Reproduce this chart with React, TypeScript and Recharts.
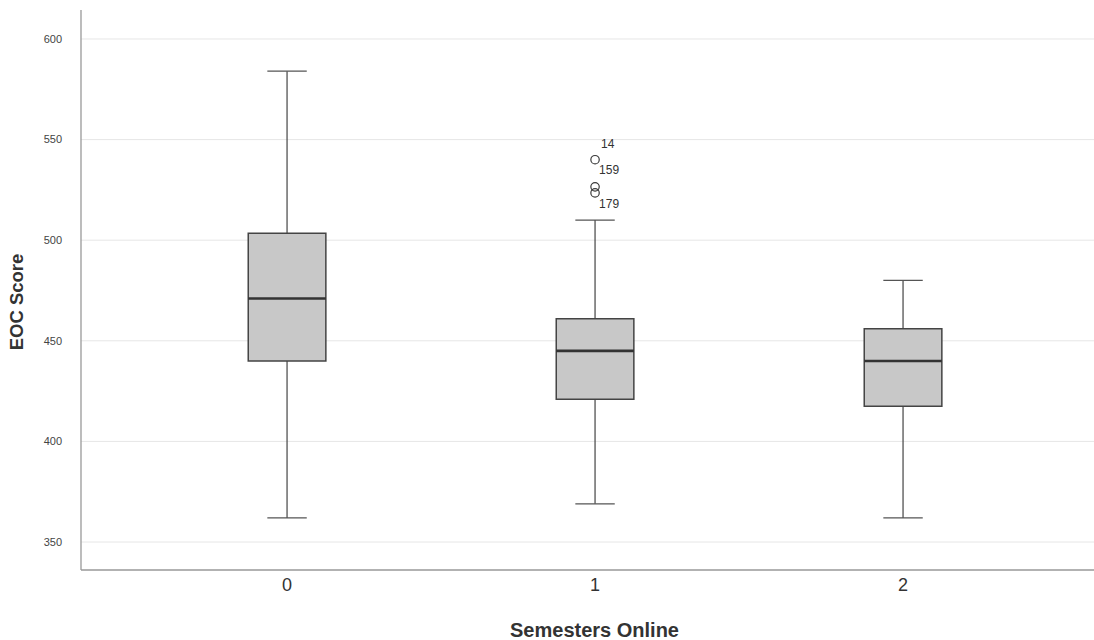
import React from 'react';
import {
  ComposedChart,
  XAxis,
  YAxis,
  CartesianGrid,
  Scatter,
  ReferenceArea,
  ReferenceLine,
  Label,
} from 'recharts';

// ---- data ----
const categories = [0, 1, 2];
const whiskerLow = [362, 369, 362];
const quartile1 = [440, 421, 417.5];
const medians = [471, 445, 440];
const quartile3 = [503.5, 461, 456];
const whiskerHigh = [584, 510, 480];
const outlierCategory = [1, 1, 1];
const outlierValues = [540, 526.5, 523.5];
const outlierIds = ['14', '159', '179'];
const yTicks = [350, 400, 450, 500, 550, 600];

const outliers = outlierValues.map((v, i) => ({ x: outlierCategory[i], y: v, id: outlierIds[i] }));

// ---- style ----
const BOX_HALF = 0.126;
const CAP_HALF = 0.064;
const labelOffsets: Record<string, { dx: number; dy: number }> = {
  '14': { dx: 6, dy: -16 },
  '159': { dx: 4, dy: -17 },
  '179': { dx: 4, dy: 11 },
};
const FONT = 'Arial, "Liberation Sans", Helvetica, sans-serif';

const OutlierShape = (props: any) => {
  const { cx, cy, payload } = props;
  if (cx == null || cy == null) return null;
  const off = labelOffsets[payload.id] || { dx: 6, dy: 0 };
  return (
    <g>
      <circle cx={cx} cy={cy} r={4.2} fill="none" stroke="#3a3a3a" strokeWidth={1.2} />
      <text
        x={cx + off.dx}
        y={cy + off.dy}
        dominantBaseline="central"
        fontSize={12}
        fontFamily={FONT}
        fill="#333"
      >
        {payload.id}
      </text>
    </g>
  );
};

export default function App() {
  return (
    <div style={{ position: 'absolute', left: 0, top: 0, background: '#fff' }}>
      <ComposedChart
        width={1094}
        height={640}
        margin={{ top: 10, right: 0, bottom: 30, left: 0 }}
      >
        <CartesianGrid
          vertical={false}
          horizontal={true}
          horizontalValues={yTicks}
          stroke="#e6e6e6"
          strokeWidth={1}
        />
        <XAxis
          type="number"
          dataKey="x"
          domain={[-0.669, 2.62]}
          ticks={categories}
          allowDataOverflow
          tickLine={false}
          axisLine={{ stroke: '#999', strokeWidth: 1.3 }}
          tickSize={6}
          tickMargin={2}
          height={40}
          tick={{ fontSize: 18, fill: '#333', fontFamily: FONT }}
        >
          <Label
            content={(p: any) => {
              const vb = p.viewBox || { x: 81, y: 570, width: 1013, height: 40 };
              return (
                <text
                  x={vb.x + vb.width / 2 + 7}
                  y={vb.y + 60}
                  textAnchor="middle"
                  dominantBaseline="central"
                  fontSize={20}
                  fontWeight="bold"
                  fontFamily={FONT}
                  fill="#333"
                >
                  Semesters Online
                </text>
              );
            }}
          />
        </XAxis>
        <YAxis
          type="number"
          dataKey="y"
          domain={[336.1, 614.4]}
          ticks={yTicks}
          allowDataOverflow
          width={81}
          tickLine={false}
          axisLine={{ stroke: '#999', strokeWidth: 1.3 }}
          tickSize={6}
          tickMargin={13}
          tick={{ fontSize: 11, fill: '#444', fontFamily: FONT }}
        >
          <Label
            content={(p: any) => {
              const vb = p.viewBox || { x: 0, y: 10, width: 81, height: 560 };
              const cx = vb.x + 16;
              const cy = vb.y + vb.height / 2 + 12;
              return (
                <text
                  x={cx}
                  y={cy}
                  transform={`rotate(-90, ${cx}, ${cy})`}
                  textAnchor="middle"
                  dominantBaseline="central"
                  fontSize={18.5}
                  fontWeight="bold"
                  fontFamily={FONT}
                  fill="#333"
                >
                  EOC Score
                </text>
              );
            }}
          />
        </YAxis>

        {categories.map((c, i) => (
          <ReferenceLine
            key={`wl-${c}`}
            segment={[{ x: c, y: whiskerLow[i] }, { x: c, y: quartile1[i] }]}
            stroke="#444"
            strokeWidth={1.2}
          />
        ))}
        {categories.map((c, i) => (
          <ReferenceLine
            key={`wh-${c}`}
            segment={[{ x: c, y: quartile3[i] }, { x: c, y: whiskerHigh[i] }]}
            stroke="#444"
            strokeWidth={1.2}
          />
        ))}
        {categories.map((c, i) => (
          <ReferenceLine
            key={`cl-${c}`}
            segment={[{ x: c - CAP_HALF, y: whiskerLow[i] }, { x: c + CAP_HALF, y: whiskerLow[i] }]}
            stroke="#555"
            strokeWidth={1.3}
          />
        ))}
        {categories.map((c, i) => (
          <ReferenceLine
            key={`ch-${c}`}
            segment={[{ x: c - CAP_HALF, y: whiskerHigh[i] }, { x: c + CAP_HALF, y: whiskerHigh[i] }]}
            stroke="#555"
            strokeWidth={1.3}
          />
        ))}
        {categories.map((c, i) => (
          <ReferenceArea
            key={`box-${c}`}
            x1={c - BOX_HALF}
            x2={c + BOX_HALF}
            y1={quartile1[i]}
            y2={quartile3[i]}
            fill="#c8c8c8"
            fillOpacity={1}
            stroke="#444"
            strokeWidth={1.5}
          />
        ))}
        {categories.map((c, i) => (
          <ReferenceLine
            key={`med-${c}`}
            segment={[{ x: c - BOX_HALF, y: medians[i] }, { x: c + BOX_HALF, y: medians[i] }]}
            stroke="#333"
            strokeWidth={2.6}
          />
        ))}

        <Scatter
          data={outliers}
          dataKey="y"
          isAnimationActive={false}
          shape={OutlierShape}
        />
      </ComposedChart>
    </div>
  );
}
